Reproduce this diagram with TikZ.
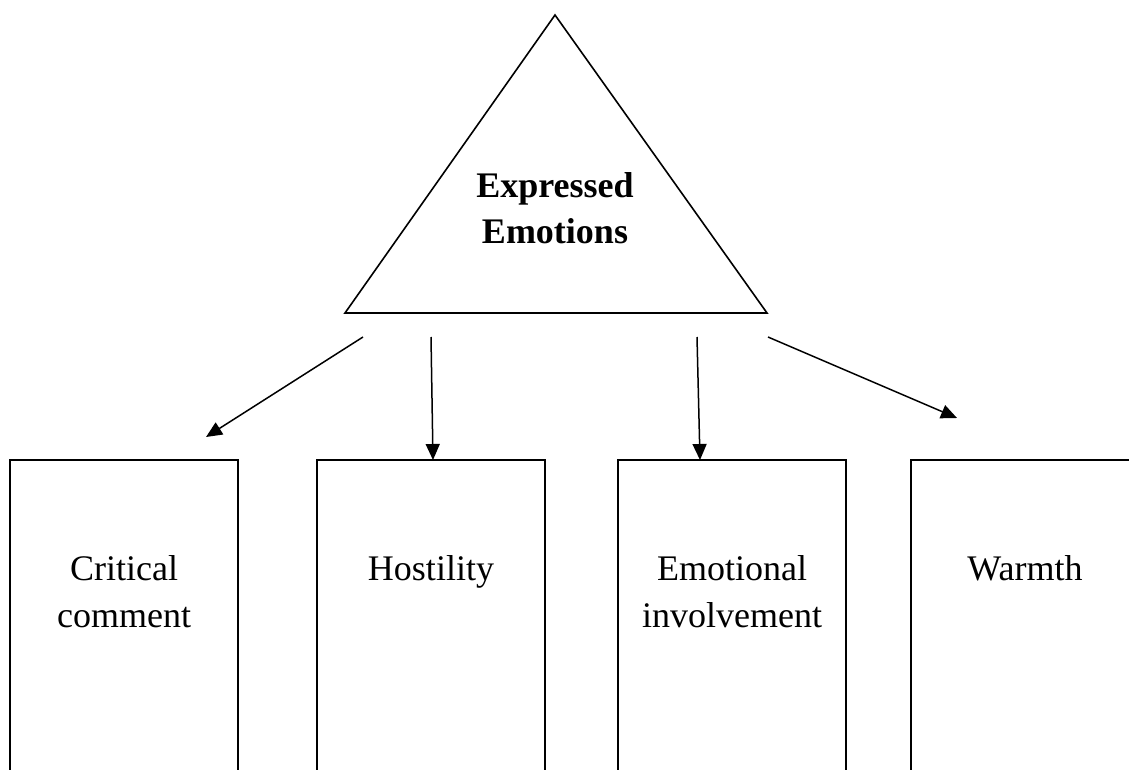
\documentclass[tikz,border=0pt]{standalone}
\usepackage{fontspec}
\setmainfont{Liberation Serif}
\usetikzlibrary{arrows.meta}
\begin{document}
\begin{tikzpicture}[x=1pt,y=-1pt,line width=1.6pt,
  lbl/.style={font=\fontsize{36}{47}\selectfont, align=center, anchor=base, inner sep=0pt},
  boxnode/.style={minimum width=226pt, minimum height=330pt, inner sep=0pt, anchor=north},
  arr/.style={-{Triangle[length=16pt,width=14pt]}, line width=1.5pt}]
\useasboundingbox (0,0) rectangle (1129,770);
\fill[white] (0,0) rectangle (1129,770);
\clip (0,0) rectangle (1129,770);
% triangle
\coordinate (apex) at (555,15);
\coordinate (bl) at (345,313);
\coordinate (br) at (767,313);
\draw[line join=miter] (apex) -- (br) -- (bl) -- cycle;
\node[lbl, font=\fontsize{36}{46}\selectfont\bfseries] (ee) at (555,243) {Expressed\\Emotions};
% boxes
\node[boxnode] (b1) at (124,460) {};
\node[boxnode] (b2) at (431,460) {};
\node[boxnode] (b3) at (732,460) {};
\node[boxnode] (b4) at (1025,460) {};
\foreach \b in {b1,b2,b3,b4}
  \draw (\b.south west) -- (\b.north west) -- (\b.north east) -- (\b.south east);
\node[lbl] (t1) at (124,627) {Critical\\comment};
\node[lbl] (t2) at (431,580) {Hostility};
\node[lbl] (t3) at (732,627) {Emotional\\involvement};
\node[lbl] (t4) at (1025,580) {Warmth};
% arrows
\coordinate (s1) at (363,337);
\coordinate (e1) at (206,437);
\coordinate (s2) at (431,337);
\coordinate (s3) at (697,337);
\coordinate (s4) at (768,337);
\coordinate (e4) at (957,418);
\draw[arr] (s1) -- (e1);
\draw[arr] (s2) -- (433,460);
\draw[arr] (s3) -- (700,460);
\draw[arr] (s4) -- (e4);
\end{tikzpicture}
\end{document}
